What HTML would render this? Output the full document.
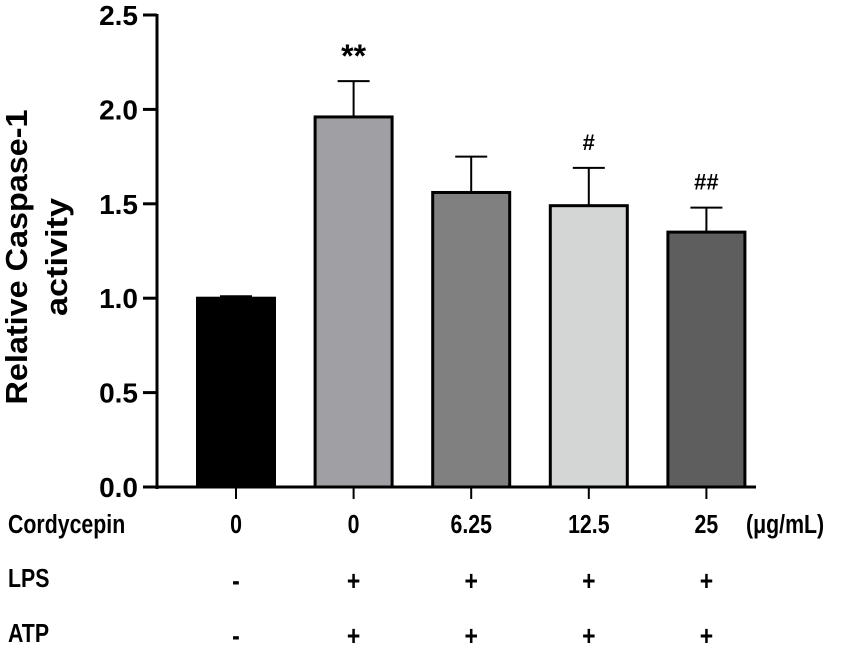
<!DOCTYPE html>
<html><head><meta charset="utf-8"><style>
body{margin:0;background:#fff;}
svg text{font-family:"Liberation Sans",Arial,sans-serif;font-weight:bold;fill:#000;}
</style></head><body>
<svg id="chart" width="852" height="647" viewBox="0 0 852 647" xmlns="http://www.w3.org/2000/svg"></svg>
<script>
const categories=["0","0","6.25","12.5","25"];
const values=[1.0,1.96,1.56,1.49,1.35];
const errors=[0.01,0.19,0.19,0.20,0.13];
const fills=["#000000","#a0a0a4","#808080","#d4d6d5","#5e5e5e"];
const marks=["","**","","#","##"];
const lps=["-","+","+","+","+"];
const atp=["-","+","+","+","+"];
const yTicks=[0,0.5,1.0,1.5,2.0,2.5];
const yTickLabels=["0.0","0.5","1.0","1.5","2.0","2.5"];

const svg=document.getElementById('chart');
const NS="http://www.w3.org/2000/svg";
const y0=487,yTop=15,yMax=2.5;
const yScale=v=>y0-(v/yMax)*(y0-yTop);
const x0=236,step=117.6,bw=77;
const xScale=i=>x0+i*step;
function mk(tag,attrs,txt){const e=document.createElementNS(NS,tag);for(const k in attrs)e.setAttribute(k,attrs[k]);if(txt!==undefined)e.textContent=txt;svg.appendChild(e);return e;}
function ctext(x,y,s,size,anchor){return mk('text',{x:0,y:0,'text-anchor':anchor||'middle','font-size':size,transform:`translate(${x},${y}) scale(0.82,1)`},s);}

let e=mk('line',{x1:157,y1:yTop-1,x2:157,y2:y0+2,stroke:'#000','stroke-width':3});


e=mk('line',{x1:143,y1:y0,x2:756,y2:y0,stroke:'#000','stroke-width':3});


yTicks.forEach((t,i)=>{
  const y=yScale(t);
  let l=mk('line',{x1:143,y1:y,x2:157,y2:y,stroke:'#000','stroke-width':3});
  
  
  let tx=mk('text',{x:138,y:y+10,'text-anchor':'end','font-size':28},yTickLabels[i]);
  
  
});
e=mk('text',{x:0,y:0,'font-size':31,'text-anchor':'middle',transform:'translate(27,257) rotate(-90)'});


const t1=document.createElementNS(NS,'tspan');t1.setAttribute('x',0);t1.setAttribute('dy',0);t1.setAttribute('textLength',295);t1.setAttribute('lengthAdjust','spacingAndGlyphs');t1.textContent='Relative Caspase-1';e.appendChild(t1);
const t2=document.createElementNS(NS,'tspan');t2.setAttribute('x',0);t2.setAttribute('dy',40);t2.setAttribute('textLength',118);t2.setAttribute('lengthAdjust','spacingAndGlyphs');t2.textContent='activity';e.appendChild(t2);

values.forEach((v,i)=>{
  const cx=xScale(i),top=yScale(v),et=yScale(v+errors[i]);
  let el=mk('line',{x1:cx,y1:et,x2:cx,y2:top,stroke:'#000','stroke-width':2});
  
  
  el=mk('line',{x1:cx-16,y1:et,x2:cx+16,y2:et,stroke:'#000','stroke-width':2});
  
  
  el=mk('rect',{x:cx-bw/2,y:top,width:bw,height:y0-top,fill:fills[i],stroke:'#000','stroke-width':3});
  
  
  el=mk('line',{x1:cx,y1:y0,x2:cx,y2:y0+12,stroke:'#000','stroke-width':2});
  
  
  if(marks[i]){
    el=mk('text',{x:cx,y:et-(marks[i]==='**'?14:18),'text-anchor':'middle','font-size':marks[i]==='**'?32:22},marks[i]);
    
    
  }
  el=ctext(cx,533,categories[i],26);
  
  
  el=ctext(cx,590,lps[i],28);
  
  
  el=ctext(cx,645,atp[i],28);
  
  
});
e=ctext(8,533,'Cordycepin',26,'start');


e=ctext(746,533,'(μg/mL)',26,'start');


e=ctext(8,587,'LPS',26,'start');


e=ctext(8,642,'ATP',26,'start');


</script>
</body></html>
